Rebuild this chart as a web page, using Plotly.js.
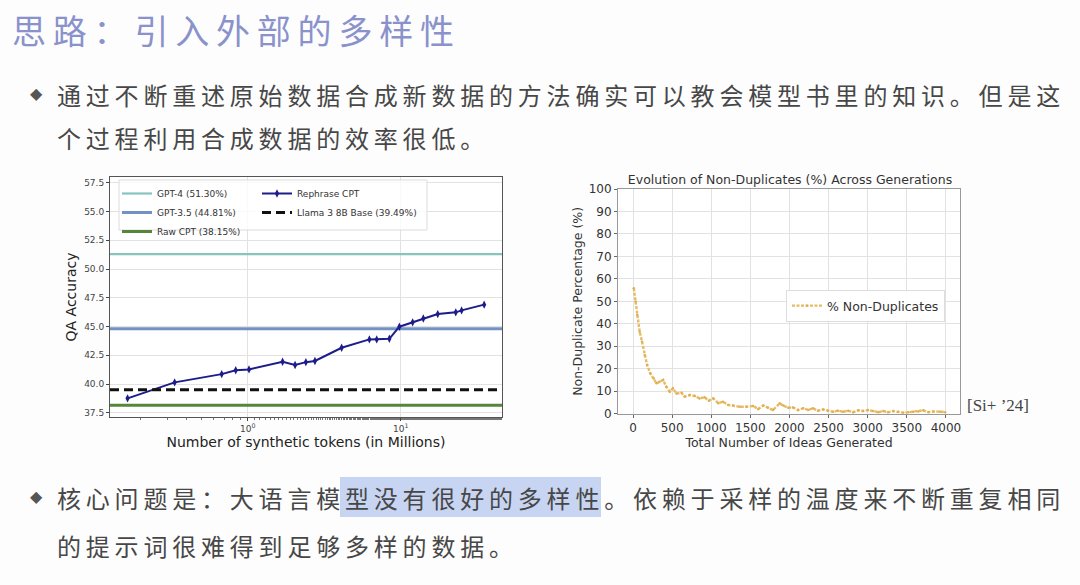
<!DOCTYPE html>
<html>
<head>
<meta charset="utf-8">
<script src="https://cdn.plot.ly/plotly-3.0.1.min.js"></script>
<style>
  html, body { margin: 0; padding: 0; background: #fdfdfd; }
  /* the slide text is set wide, like the original */
  .annotation-text[data-unformatted*="的"] { letter-spacing: 0.2em; }
</style>
</head>
<body>
<div id="slide" style="width:1080px;height:585px;"></div>
<script>
// ---- left chart: QA accuracy vs synthetic tokens ----
const rephraseTokens = [0.164, 0.333, 0.676, 0.835, 1.02, 1.69, 2.04, 2.40, 2.75, 4.11,
                        6.24, 6.97, 8.43, 9.8, 11.97, 14.05, 17.46, 22.9, 25.0, 35.1];
const rephraseAcc = [38.75, 40.14, 40.86, 41.2, 41.27, 41.93, 41.65, 41.9, 42.0, 43.15,
                     43.88, 43.88, 43.93, 44.98, 45.36, 45.7, 46.08, 46.23, 46.4, 46.9];

const baselineNames = ['GPT-4 (51.30%)', 'GPT-3.5 (44.81%)', 'Raw CPT (38.15%)', 'Llama 3 8B Base (39.49%)'];
const baselineValues = [51.30, 44.81, 38.15, 39.49];
const baselineColors = ['#86c4c0', '#7292c3', '#55873a', '#111111'];

// ---- right chart: non-duplicates across generations ----
const ideasGenerated = [10, 34, 55, 85, 115, 150, 180, 220, 265, 300, 340, 385, 425, 470, 510, 555,
  620, 660, 725, 790, 850, 915, 970, 1025, 1090, 1150, 1215, 1280, 1365, 1450, 1535, 1600,
  1665, 1725, 1790, 1875, 1920, 1985, 2045, 2110, 2175, 2240, 2300, 2365, 2430, 2495, 2560,
  2620, 2685, 2750, 2815, 2880, 2940, 3005, 3070, 3135, 3200, 3260, 3325, 3390, 3455, 3520,
  3580, 3645, 3710, 3775, 3840, 3925, 3990];
const nonDupPct = [55.8, 49.9, 43.9, 36.5, 32, 26, 21.7, 18, 15.7, 13.5, 14.2, 15, 12, 9.8, 11.3, 9,
  9.3, 7.6, 8.3, 7.9, 6.8, 7.3, 5.8, 6.8, 4.7, 5.3, 3.9, 3.6, 3.1, 3.1, 3.4, 2.1,
  3.6, 2.7, 1.6, 4.6, 3.6, 2.7, 2.8, 1.6, 2.4, 1.6, 2.4, 1.3, 1.9, 1.3, 0.9,
  1.3, 0.9, 1.3, 0.7, 1.5, 1.2, 1.6, 1.2, 0.7, 1.2, 0.6, 1.2, 0.9, 0.4, 0.6,
  0.9, 1.0, 1.5, 0.7, 1.0, 0.9, 0.7];

const W = 1080, H = 585;
const px = v => v / W;
const py = v => 1 - v / H;

const leftXRange = [-0.90, 1.662];   // log10 of token range
const tokenSpan = leftXRange.map(v => Math.pow(10, v));

const baselineTrace = i => ({
  name: baselineNames[i],
  x: tokenSpan,
  y: [baselineValues[i], baselineValues[i]],
  mode: 'lines',
  line: {color: baselineColors[i], width: i === 0 ? 2.2 : 3, dash: i === 3 ? '9px,5px' : 'solid'},
  xaxis: 'x', yaxis: 'y',
  legend: i === 3 ? 'legend2' : 'legend'
});

const traces = [
  baselineTrace(0),
  baselineTrace(1),
  baselineTrace(2),
  {
    name: 'Rephrase CPT',
    x: rephraseTokens,
    y: rephraseAcc,
    mode: 'lines+markers',
    line: {color: '#1c1c8a', width: 2},
    marker: {symbol: 'diamond-tall', size: 6, color: '#1c1c8a'},
    xaxis: 'x', yaxis: 'y',
    legend: 'legend2'
  },
  baselineTrace(3),
  {
    name: '% Non-Duplicates',
    x: ideasGenerated,
    y: nonDupPct,
    mode: 'lines+markers',
    line: {color: '#e6bc66', width: 2.4, dash: '3px,1.5px'},
    marker: {size: 2.5, color: '#e0b050'},
    xaxis: 'x2', yaxis: 'y2',
    legend: 'legend3'
  }
];

const tickFont = {family: 'DejaVu Sans', size: 9, color: '#444'};
const bodyFont = {family: 'Noto Sans CJK SC', size: 24, color: '#474747'};

const layout = {
  width: W, height: H,
  margin: {l: 0, r: 0, t: 0, b: 0},
  paper_bgcolor: '#fdfdfd',
  plot_bgcolor: '#ffffff',
  hovermode: false,
  font: {family: 'DejaVu Sans', color: '#333'},
  title: {
    text: 'Evolution of Non-Duplicates (%) Across Generations',
    x: px(790), xref: 'paper', xanchor: 'center',
    y: py(180), yref: 'paper', yanchor: 'middle',
    font: {family: 'DejaVu Sans', size: 12.5, color: '#333'}
  },
  xaxis: {
    domain: [px(110), px(502)], anchor: 'y',
    type: 'log', range: leftXRange,
    tickvals: [1, 10], ticktext: ['10<sup>0</sup>', '10<sup>1</sup>'],
    ticks: 'outside', ticklen: 3, tickcolor: '#444',
    minor: {ticks: 'outside', ticklen: 2, tickcolor: '#777', showgrid: false},
    showgrid: true, gridcolor: '#e2e2e2', zeroline: false,
    showline: true, linecolor: '#555', mirror: true,
    tickfont: tickFont,
    title: {text: 'Number of synthetic tokens (in Millions)', standoff: 3,
            font: {family: 'DejaVu Sans', size: 14, color: '#222'}}
  },
  yaxis: {
    domain: [py(417), py(177)], anchor: 'x',
    range: [37.13, 58.0], tick0: 37.5, dtick: 2.5, tickformat: '.1f',
    ticks: 'outside', ticklen: 3, tickcolor: '#444',
    showgrid: true, gridcolor: '#e2e2e2', zeroline: false,
    showline: true, linecolor: '#555', mirror: true,
    tickfont: tickFont,
    title: {text: 'QA Accuracy', standoff: 4,
            font: {family: 'DejaVu Sans', size: 14, color: '#222'}}
  },
  xaxis2: {
    domain: [px(618), px(960)], anchor: 'y2',
    range: [-192, 4180], tick0: 0, dtick: 500,
    ticks: 'outside', ticklen: 3, tickcolor: '#666',
    showgrid: true, gridcolor: '#e2e2e2', zeroline: false,
    showline: true, linecolor: '#999', mirror: true,
    tickfont: {family: 'DejaVu Sans', size: 12, color: '#333'},
    title: {text: 'Total Number of Ideas Generated', standoff: 1,
            font: {family: 'DejaVu Sans', size: 12.5, color: '#333'}}
  },
  yaxis2: {
    domain: [py(413.7), py(189)], anchor: 'x2',
    range: [0, 100], dtick: 10,
    ticks: 'outside', ticklen: 3, tickcolor: '#666',
    showgrid: true, gridcolor: '#e2e2e2', zeroline: false,
    showline: true, linecolor: '#999', mirror: true,
    tickfont: {family: 'DejaVu Sans', size: 12, color: '#333'},
    title: {text: 'Non-Duplicate Percentage (%)', standoff: 3,
            font: {family: 'DejaVu Sans', size: 12.5, color: '#333'}}
  },
  legend: {
    x: px(117), y: py(179), xanchor: 'left', yanchor: 'top',
    bgcolor: 'rgba(0,0,0,0)', borderwidth: 0, tracegroupgap: 0,
    font: {family: 'DejaVu Sans', size: 9, color: '#333'}
  },
  legend2: {
    x: px(257), y: py(179), xanchor: 'left', yanchor: 'top',
    bgcolor: 'rgba(0,0,0,0)', borderwidth: 0, tracegroupgap: 0,
    font: {family: 'DejaVu Sans', size: 9, color: '#333'}
  },
  legend3: {
    x: px(786), y: py(290), xanchor: 'left', yanchor: 'top',
    bgcolor: 'rgba(255,255,255,0.9)', bordercolor: '#dddddd', borderwidth: 1,
    font: {family: 'DejaVu Sans', size: 12.5, color: '#333'}
  },
  shapes: [
    // legend frame of the left chart
    {type: 'rect', xref: 'paper', yref: 'paper', layer: 'above',
     x0: px(119), x1: px(427), y0: py(230), y1: py(180),
     fillcolor: 'rgba(255,255,255,0.8)', line: {color: '#dcdcdc', width: 1}},
    // text selection highlight
    {type: 'rect', xref: 'paper', yref: 'paper', layer: 'below',
     x0: px(340), x1: px(601), y0: py(517), y1: py(477),
     fillcolor: '#c8d5f2', line: {width: 0}}
  ],
  annotations: [
    {text: '思路：引入外部的多样性', x: px(10), y: py(29), xanchor: 'left', yanchor: 'middle',
     font: {family: 'Noto Sans CJK SC', size: 34, color: '#8a92cc'}},
    {text: '通过不断重述原始数据合成新数据的方法确实可以教会模型书里的知识。但是这',
     x: px(55), y: py(95), xanchor: 'left', yanchor: 'middle', font: bodyFont},
    {text: '个过程利用合成数据的效率很低。',
     x: px(55), y: py(137), xanchor: 'left', yanchor: 'middle', font: bodyFont},
    {text: '核心问题是：大语言模型没有很好的多样性。依赖于采样的温度来不断重复相同',
     x: px(55), y: py(497), xanchor: 'left', yanchor: 'middle', font: bodyFont},
    {text: '的提示词很难得到足够多样的数据。',
     x: px(55), y: py(545), xanchor: 'left', yanchor: 'middle', font: bodyFont},
    {text: '◆', x: px(36), y: py(94), xanchor: 'center', yanchor: 'middle',
     font: {family: 'DejaVu Sans', size: 16, color: '#555'}},
    {text: '◆', x: px(36), y: py(496), xanchor: 'center', yanchor: 'middle',
     font: {family: 'DejaVu Sans', size: 16, color: '#555'}},
    {text: '[Si+ ’24]', x: px(998), y: py(405), xanchor: 'center', yanchor: 'middle',
     font: {family: 'Liberation Serif', size: 17, color: '#444'}}
  ].map(a => Object.assign({xref: 'paper', yref: 'paper', showarrow: false}, a))
};

Plotly.newPlot('slide', traces, layout, {staticPlot: true, displayModeBar: false});
</script>
</body>
</html>
